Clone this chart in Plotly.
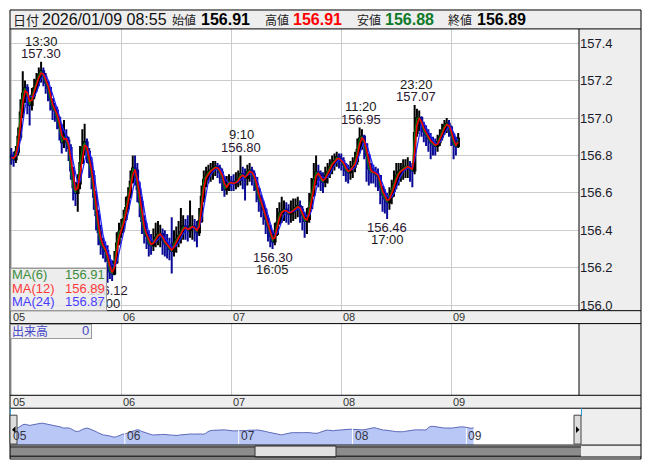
import pandas as pd
import plotly.graph_objects as go

# page body has an 8px margin: the figure is placed at (8, 8)
OX, OY = 8, 8
W, H = 637, 454

# ---------------- data ----------------
bar_start = "2026-01-05 07:00"
bar_freq = "30min"
first_open = 156.80

close = [
    156.79, 156.78, 156.82, 156.90, 157.03, 157.13, 157.16, 157.11, 157.07, 157.12,
    157.16, 157.20, 157.23, 157.25, 157.22, 157.19, 157.16, 157.10, 157.05, 157.04,
    157.00, 156.95, 156.87, 156.90, 156.88, 156.84, 156.72, 156.63, 156.60, 156.65,
    156.76, 156.84, 156.87, 156.82, 156.76, 156.69, 156.58, 156.48, 156.39, 156.33,
    156.31, 156.29, 156.24, 156.18, 156.17, 156.23, 156.33, 156.39,
    156.41, 156.46, 156.52, 156.58, 156.66, 156.73, 156.72, 156.62, 156.55, 156.45,
    156.39, 156.37, 156.33, 156.32, 156.34, 156.36, 156.38, 156.38, 156.35, 156.33,
    156.32, 156.30, 156.29, 156.33, 156.35, 156.37, 156.39, 156.42, 156.41, 156.40,
    156.42, 156.42, 156.41, 156.39, 156.45, 156.58, 156.67, 156.69, 156.71, 156.72,
    156.73, 156.74, 156.73, 156.71, 156.68, 156.62, 156.64, 156.66,
    156.65, 156.65, 156.66, 156.67, 156.70, 156.69, 156.68, 156.71, 156.72, 156.70,
    156.68, 156.62, 156.57, 156.54, 156.51, 156.46, 156.42, 156.37, 156.34, 156.38,
    156.44, 156.49, 156.50, 156.51, 156.50, 156.49, 156.50, 156.51, 156.52, 156.53,
    156.51, 156.48, 156.45, 156.46, 156.52, 156.59, 156.67, 156.71, 156.70, 156.67,
    156.66, 156.69, 156.71, 156.74, 156.76, 156.77, 156.79, 156.78,
    156.77, 156.75, 156.72, 156.71, 156.73, 156.74, 156.77, 156.83, 156.89, 156.90,
    156.86, 156.80, 156.73, 156.71, 156.71, 156.70, 156.69, 156.63, 156.59, 156.57,
    156.55, 156.58, 156.61, 156.65, 156.69, 156.71, 156.72, 156.73, 156.74, 156.74,
    156.73, 156.72, 156.92, 157.00, 157.00, 156.96, 156.93, 156.91, 156.89, 156.87,
    156.86, 156.85, 156.87, 156.90, 156.93, 156.96, 156.97, 156.95,
    156.91, 156.86, 156.85, 156.89,
]
high = [
    156.84, 156.82, 156.85, 156.95, 157.10, 157.25, 157.20, 157.18, 157.12, 157.16,
    157.21, 157.24, 157.27, 157.30, 157.27, 157.24, 157.20, 157.16, 157.10, 157.08,
    157.06, 157.01, 156.97, 156.99, 156.94, 156.90, 156.86, 156.74, 156.66, 156.70,
    156.85, 156.94, 156.97, 156.89, 156.84, 156.79, 156.72, 156.61, 156.51, 156.43,
    156.36, 156.34, 156.32, 156.27, 156.24, 156.29, 156.39, 156.44,
    156.46, 156.51, 156.58, 156.63, 156.72, 156.80, 156.80, 156.76, 156.66, 156.58,
    156.48, 156.44, 156.40, 156.38, 156.41, 156.44, 156.45, 156.43, 156.41, 156.40,
    156.38, 156.36, 156.47, 156.40, 156.42, 156.45, 156.52, 156.48, 156.46, 156.48,
    156.56, 156.48, 156.46, 156.45, 156.52, 156.64, 156.72, 156.74, 156.75, 156.76,
    156.77, 156.77, 156.76, 156.75, 156.73, 156.69, 156.69, 156.70,
    156.69, 156.70, 156.71, 156.72, 156.80, 156.74, 156.73, 156.75, 156.76, 156.74,
    156.72, 156.68, 156.63, 156.59, 156.56, 156.52, 156.48, 156.43, 156.40, 156.44,
    156.52, 156.55, 156.58, 156.56, 156.55, 156.54, 156.56, 156.57, 156.57, 156.58,
    156.56, 156.53, 156.50, 156.52, 156.60, 156.68, 156.76, 156.80, 156.75, 156.72,
    156.71, 156.74, 156.76, 156.78, 156.80, 156.81, 156.82, 156.81,
    156.81, 156.79, 156.76, 156.75, 156.77, 156.79, 156.82, 156.89, 156.95, 156.94,
    156.91, 156.86, 156.81, 156.76, 156.75, 156.74, 156.73, 156.69, 156.64, 156.62,
    156.60, 156.63, 156.67, 156.72, 156.76, 156.76, 156.76, 156.78, 156.78, 156.79,
    156.77, 156.76, 157.07, 157.05, 157.04, 157.01, 156.98, 156.96, 156.94, 156.92,
    156.90, 156.89, 156.91, 156.94, 156.97, 156.99, 157.00, 156.99,
    156.96, 156.92, 156.90, 156.92,
]
low = [
    156.75, 156.74, 156.76, 156.80, 156.88, 157.00, 157.08, 157.02, 156.96, 157.04,
    157.10, 157.14, 157.17, 157.19, 157.17, 157.13, 157.09, 157.04, 156.99, 156.98,
    156.94, 156.88, 156.81, 156.84, 156.82, 156.77, 156.67, 156.56, 156.53, 156.50,
    156.62, 156.76, 156.80, 156.76, 156.68, 156.62, 156.51, 156.40, 156.32, 156.27,
    156.25, 156.23, 156.12, 156.14, 156.13, 156.16, 156.22, 156.32,
    156.36, 156.39, 156.45, 156.50, 156.57, 156.65, 156.64, 156.55, 156.47, 156.38,
    156.33, 156.30, 156.26, 156.27, 156.29, 156.31, 156.32, 156.31, 156.27, 156.26,
    156.25, 156.24, 156.17, 156.26, 156.28, 156.31, 156.33, 156.35, 156.35, 156.34,
    156.36, 156.35, 156.34, 156.31, 156.37, 156.44, 156.55, 156.63, 156.65, 156.66,
    156.67, 156.69, 156.68, 156.65, 156.61, 156.58, 156.59, 156.61,
    156.61, 156.61, 156.62, 156.63, 156.64, 156.62, 156.56, 156.64, 156.66, 156.64,
    156.61, 156.55, 156.50, 156.47, 156.43, 156.38, 156.34, 156.31, 156.30, 156.32,
    156.37, 156.43, 156.44, 156.45, 156.44, 156.43, 156.44, 156.45, 156.46, 156.47,
    156.44, 156.40, 156.36, 156.38, 156.44, 156.52, 156.58, 156.64, 156.63, 156.61,
    156.60, 156.63, 156.65, 156.68, 156.70, 156.72, 156.74, 156.73,
    156.72, 156.69, 156.66, 156.65, 156.67, 156.68, 156.71, 156.75, 156.81, 156.83,
    156.78, 156.66, 156.64, 156.65, 156.65, 156.63, 156.61, 156.54, 156.50, 156.49,
    156.46, 156.51, 156.54, 156.58, 156.62, 156.64, 156.66, 156.67, 156.68, 156.68,
    156.66, 156.63, 156.70, 156.90, 156.93, 156.90, 156.87, 156.85, 156.82, 156.78,
    156.80, 156.80, 156.82, 156.85, 156.88, 156.91, 156.92, 156.90,
    156.85, 156.78, 156.80, 156.84,
]
volume = [0] * len(close)

ma_labels = ["MA(6)", "MA(12)", "MA(24)"]
ma_windows = ["30min", "60min", "120min"]
ma_last = ["156.91", "156.89", "156.87"]

day_starts = ["2026-01-05 07:00", "2026-01-06 07:00", "2026-01-07 07:00",
              "2026-01-08 07:00", "2026-01-09 07:00"]
day_labels = ["05", "06", "07", "08", "09"]
price_ticks = [156.0, 156.2, 156.4, 156.6, 156.8, 157.0, 157.2, 157.4]

ext_times = ["2026-01-05 13:30", "2026-01-06 04:00", "2026-01-07 09:10",
             "2026-01-07 16:05", "2026-01-08 11:20", "2026-01-08 17:00",
             "2026-01-08 23:20"]
ext_labels = ["13:30", "4:00", "9:10", "16:05", "11:20", "17:00", "23:20"]
ext_vals = [157.30, 156.12, 156.80, 156.30, 156.95, 156.46, 157.07]
ext_kind = ["high", "low", "high", "low", "high", "low", "high"]

hdr_date = "2026/01/09 08:55"
hdr_names = ["始値", "高値", "安値", "終値"]
hdr_vals = ["156.91", "156.91", "156.88", "156.89"]
vol_label = "出来高"
vol_last = "0"

# ---------------- derived ----------------
times = pd.date_range(bar_start, periods=len(close), freq=bar_freq)
opens = [first_open] + close[:-1]
cs = pd.Series(close, index=times)
mas = [cs.rolling(w).mean() for w in ma_windows]

def px(x):
    return (x - OX) / W

def py(y):
    return 1 - (y - OY) / H

t0 = pd.Timestamp(bar_start)
PPH = 110 / 24.0           # pixels per hour on main chart
X0 = 11.3                  # pixel of first day start
main_rng = [t0 + pd.Timedelta(hours=(10 - X0) / PPH), t0 + pd.Timedelta(hours=(579 - X0) / PPH)]
NPPH = 113.85 / 24.0       # navigator pixels per hour
NX0 = 11.0
nav_rng = [t0 + pd.Timedelta(hours=(10 - NX0) / NPPH), t0 + pd.Timedelta(hours=(581 - NX0) / NPPH)]

FONT = "Liberation Sans, Arial, sans-serif"
CJK = "Noto Sans CJK JP, sans-serif"

fig = go.Figure()
fig.add_trace(go.Candlestick(
    x=times, open=opens, high=high, low=low, close=close,
    increasing=dict(line=dict(color="#000000", width=2), fillcolor="#000000"),
    decreasing=dict(line=dict(color="#0a0a96", width=2), fillcolor="#0a0a96"),
    whiskerwidth=0, xaxis="x", yaxis="y", showlegend=False, hoverinfo="skip"))
for ma, col, wd in [(mas[0], "#0a7a0a", 1.2), (mas[2], "#2020ff", 1.2), (mas[1], "#ff0000", 1.5)]:
    fig.add_trace(go.Scatter(x=times, y=ma, mode="lines", line=dict(color=col, width=wd),
                             xaxis="x", yaxis="y", showlegend=False, hoverinfo="skip"))
fig.add_trace(go.Bar(x=times, y=volume, xaxis="x2", yaxis="y2", marker_color="#3333aa",
                     showlegend=False, hoverinfo="skip"))
fig.add_trace(go.Scatter(x=times, y=close, mode="lines", fill="tozeroy",
                         fillcolor="#b9c7f7", line=dict(color="#5c68b8", width=1),
                         xaxis="x3", yaxis="y3", showlegend=False, hoverinfo="skip"))

grid = "#cccccc"
fig.update_layout(
    width=W, height=H, margin=dict(l=0, r=0, t=0, b=0),
    paper_bgcolor="#ffffff", plot_bgcolor="rgba(0,0,0,0)",
    showlegend=False, bargap=0, boxgap=0.05,
    xaxis=dict(domain=[px(10), px(579)], range=main_rng, type="date", anchor="y",
               showgrid=True, gridcolor=grid, gridwidth=1, tickmode="array",
               tickvals=day_starts, showticklabels=False, ticks="", zeroline=False,
               showline=False, rangeslider=dict(visible=False)),
    yaxis=dict(domain=[py(312), py(29)], range=[155.971, 157.476], side="right",
               anchor="x", tickmode="array", tickvals=price_ticks,
               ticktext=["%.1f" % v for v in price_ticks], showgrid=True, gridcolor=grid,
               ticks="", zeroline=False, showline=False,
               tickfont=dict(family=FONT, size=13, color="#1a1a2a")),
    xaxis2=dict(domain=[px(10), px(579)], matches="x", anchor="y2", type="date",
                showgrid=True, gridcolor=grid, tickmode="array", tickvals=day_starts,
                showticklabels=False, ticks="", zeroline=False, showline=False,
                rangeslider=dict(visible=False)),
    yaxis2=dict(domain=[py(397), py(325)], range=[0, 1], anchor="x2",
                showgrid=False, showticklabels=False, zeroline=False, ticks=""),
    xaxis3=dict(domain=[px(10), px(581)], range=nav_rng, anchor="y3", type="date",
                showgrid=False, showticklabels=False, ticks="", zeroline=False,
                rangeslider=dict(visible=False)),
    yaxis3=dict(domain=[py(447), py(411)], range=[155.55, 158.33], anchor="x3",
                showgrid=False, showticklabels=False, zeroline=False, ticks=""),
)

shapes = []

def rect(x0, y0, x1, y1, fill=None, line=None, lw=1, layer="below"):
    shapes.append(dict(type="rect", xref="paper", yref="paper",
                       x0=px(x0), x1=px(x1), y0=py(y1), y1=py(y0),
                       fillcolor=fill if fill else "rgba(0,0,0,0)",
                       line=dict(color=line if line else "rgba(0,0,0,0)", width=lw if line else 0),
                       layer=layer))

def hline(x0, x1, y, color="#000000", layer="above"):
    shapes.append(dict(type="line", xref="paper", yref="paper", x0=px(x0), x1=px(x1),
                       y0=py(y), y1=py(y), line=dict(color=color, width=1), layer=layer))

def vline(x, y0, y1, color="#000000", layer="above"):
    shapes.append(dict(type="line", xref="paper", yref="paper", x0=px(x), x1=px(x),
                       y0=py(y0), y1=py(y1), line=dict(color=color, width=1), layer=layer))

# panels
rect(10, 10, 641, 29, fill="#eeeeee")
rect(10, 29, 579, 312, fill="#ffffff")
rect(579, 29, 641, 312, fill="#eeeeee")
rect(10, 312, 641, 325, fill="#eeeeee")
rect(10, 325, 579, 397, fill="#ffffff")
rect(579, 325, 641, 397, fill="#eeeeee")
rect(10, 397, 641, 410, fill="#eeeeee")
rect(10, 410, 581, 447, fill="#ffffff")
rect(581, 410, 641, 461, fill="#eeeeee")
# scrollbar
rect(10, 448, 581, 459, fill="#8c8c8c", layer="above")
rect(10, 448, 581, 450, fill="#5a5a5a", layer="above")
rect(10, 457, 581, 459, fill="#606060", layer="above")
rect(255, 448, 336, 459, fill="#e2e2e2", line="#333333", layer="above")

# borders
for yy in [29, 312, 325, 397, 410, 447, 459]:
    hline(10, 641, yy)
vline(579, 29, 312)
vline(579, 325, 397)
rect(10, 10, 641, 461, line="#000000", layer="above")

# navigator day separators
for d in day_starts[1:]:
    shapes.append(dict(type="line", xref="x3", yref="paper", x0=d, x1=d,
                       y0=py(446), y1=py(430), line=dict(color="#ffffff", width=1), layer="above"))
# navigator edges & handles
vline(10.5, 410, 418, color="#2aa0d8")
vline(581.5, 410, 418, color="#2aa0d8")
rect(10, 417, 17, 446, fill="#dddddd", line="#444444", layer="above")
rect(574, 417, 581, 446, fill="#dddddd", line="#444444", layer="above")
shapes.append(dict(type="path", xref="paper", yref="paper", layer="above",
                   path="M %f %f L %f %f L %f %f Z" % (px(15.5), py(428), px(12), py(431.5), px(15.5), py(435)),
                   fillcolor="#000000", line=dict(width=0)))
shapes.append(dict(type="path", xref="paper", yref="paper", layer="above",
                   path="M %f %f L %f %f L %f %f Z" % (px(576), py(428), px(579.5), py(431.5), px(576), py(435)),
                   fillcolor="#000000", line=dict(width=0)))

anns = []

def txt(x, y, s, size=13, color="#000000", family=FONT, anchor="left", xref="paper", xshift=0,
        yref="paper", yshift=0, **kw):
    anns.append(dict(x=x, y=y, xref=xref, yref=yref, text=s, showarrow=False,
                     xanchor=anchor, yanchor="middle", xshift=xshift, yshift=yshift,
                     borderpad=0, font=dict(family=family, size=size, color=color), **kw))

# header
txt(px(12), py(19.5), "日付", size=13, family=CJK, color="#222222")
txt(px(41), py(19.5), hdr_date, size=16, color="#111111")
hx_name = [171, 264, 356, 447]
hx_val = [200, 292, 384, 476]
hcol = ["#000000", "#ff0000", "#0f7a2a", "#000000"]
for n, v, xn, xv, c in zip(hdr_names, hdr_vals, hx_name, hx_val, hcol):
    txt(px(xn), py(20), n, size=12, family=CJK, color="#222222")
    txt(px(xv), py(19.5), "<b>%s</b>" % v, size=16, color=c)

# extremes
for t, lab, v, k in zip(ext_times, ext_labels, ext_vals, ext_kind):
    s = 1 if k == "high" else -1
    txt(t, v, "%.2f" % v, size=13, color="#2a1630", xref="x", yref="y", anchor="center", yshift=s * 8)
    txt(t, v, lab, size=13, color="#1a1a1a", xref="x", yref="y", anchor="center", yshift=s * 20.5)

# legend box (covers text below it)
anns.append(dict(x=px(10), y=py(269), xref="paper", yref="paper", text=" ", showarrow=False,
                 xanchor="left", yanchor="top", width=95, height=41, bgcolor="rgba(234,234,234,0.86)",
                 bordercolor="#9a9a9a", borderwidth=1, borderpad=0))
ma_txt_col = ["#3c8c3c", "#ff3a3a", "#4a3cff"]
for i, (lab, val, c) in enumerate(zip(ma_labels, ma_last, ma_txt_col)):
    yy = 276 + i * 13.5
    txt(px(11), py(yy), lab, size=13, color=c)
    txt(px(64), py(yy), val, size=13, color=c)

# volume label box
anns.append(dict(x=px(10), y=py(325), xref="paper", yref="paper", text=" ", showarrow=False,
                 xanchor="left", yanchor="top", width=80, height=13, bgcolor="#eeeeee",
                 bordercolor="#9a9a9a", borderwidth=1, borderpad=0))
txt(px(11), py(332), vol_label, size=12, family=CJK, color="#4646c8")
txt(px(90), py(332), vol_last, size=13, color="#4646c8", anchor="right")

# day labels on strips and navigator
for d, lab in zip(day_starts, day_labels):
    txt(d, py(318.5), lab, size=11, color="#333333", xref="x", xshift=1)
    txt(d, py(403.5), lab, size=11, color="#333333", xref="x", xshift=1)
    txt(d, py(438), lab, size=12, color="#333340", xref="x3", xshift=1)

fig.update_layout(shapes=shapes, annotations=anns)
fig.write_html("out.html")
